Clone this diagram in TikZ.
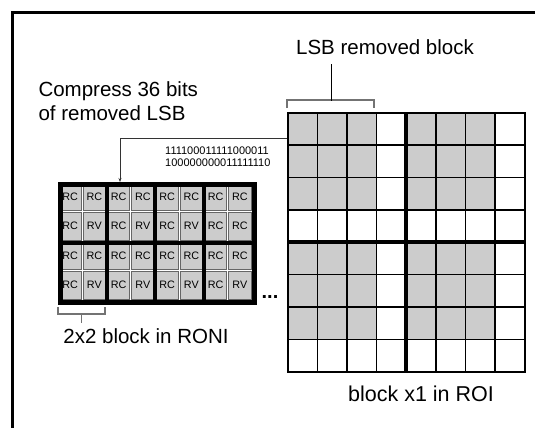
\documentclass[tikz,border=0pt]{standalone}
\usepackage{fontspec}
\setmainfont{Liberation Sans}
\usetikzlibrary{arrows.meta}
\definecolor{cellgray}{gray}{0.80}
\definecolor{brkgray}{gray}{0.45}
\begin{document}
\begin{tikzpicture}[x=1pt,y=-1pt,
  lbl/.style={font=\fontsize{20.5}{23.5}\selectfont, inner sep=0pt},
  bits/.style={font=\fontsize{11}{11.5}\selectfont, inner sep=0pt, align=center},
  gcell/.style={draw=black, line width=1.6pt, minimum width=29.625pt, minimum height=32.375pt, inner sep=0pt, anchor=north west},
  rcell/.style={draw=black!60, line width=0.9pt, fill=cellgray, minimum width=22.6pt, minimum height=27.8pt, inner sep=0pt, font=\fontsize{10.8}{10.8}\selectfont},
  brk/.style={draw=brkgray, line width=1.1pt},
  stem/.style={draw=black, line width=1.2pt},
  conn/.style={draw=black!80, line width=0.9pt},
]
\useasboundingbox (0,0) rectangle (535,428);
% frame
\draw[line width=3pt] (12,430) -- (12,13) -- (537,13);

% ROI grid
\foreach \i in {0,...,7}{
  \foreach \j in {0,...,7}{
    \pgfmathtruncatemacro{\a}{mod(\i,4)}
    \pgfmathtruncatemacro{\b}{mod(\j,4)}
    \pgfmathsetmacro{\isg}{(\a<3)&&(\b<3)}
    \ifdim\isg pt>0.5pt
      \node[gcell, fill=cellgray] (g-\i-\j) at ({287+29.625*\i},{112+32.375*\j}) {};
    \else
      \node[gcell, fill=white] (g-\i-\j) at ({287+29.625*\i},{112+32.375*\j}) {};
    \fi
  }
}
\node[draw=black, line width=1.8pt, minimum width=237pt, minimum height=259pt, anchor=north west, inner sep=0pt] (roi) at (287,112) {};
\draw[line width=4pt] (roi.north) -- (roi.south);
\draw[line width=4pt] (roi.west) -- (roi.east);

% RONI block
\foreach \lab [count=\i from 0] in {RC,RC,RC,RC,RC,RC,RC,RC}{
  \node[rcell] (r-\i-0) at ({58+24.25*\i+12.125},{182+14.75}) {\lab};}
\foreach \lab [count=\i from 0] in {RC,RV,RC,RV,RC,RV,RC,RC}{
  \node[rcell] (r-\i-1) at ({58+24.25*\i+12.125},{182+29.5+14.75}) {\lab};}
\foreach \lab [count=\i from 0] in {RC,RC,RC,RC,RC,RC,RC,RC}{
  \node[rcell] (r-\i-2) at ({58+24.25*\i+12.125},{182+59+14.75}) {\lab};}
\foreach \lab [count=\i from 0] in {RC,RV,RC,RV,RC,RV,RC,RV}{
  \node[rcell] (r-\i-3) at ({58+24.25*\i+12.125},{182+88.5+14.75}) {\lab};}
\node[draw=black, line width=4.5pt, minimum width=194pt, minimum height=118pt, anchor=north west, inner sep=0pt] (roni) at (58,182) {};
\foreach \x in {106.5,155,203.5}{
  \draw[line width=4pt] (\x,182) -- (\x,300);}
\draw[line width=4pt] (roni.west) -- (roni.east);
\node[font=\bfseries\fontsize{20}{20}\selectfont, inner sep=0pt, anchor=base] (dots) at (270,298.5) {...};

% labels
\node[lbl, anchor=base] (lsb) at (385,55) {LSB removed block};
\node[lbl, anchor=base west] (comp1) at (38.3,96.7) {Compress 36 bits};
\node[lbl, anchor=base west] (comp2) at (38.3,120) {of removed LSB};
\node[bits, anchor=base west] (bits1) at (165,154.5) {111100011111000011};
\node[bits, anchor=base west] (bits2) at (165,166) {100000000011111110};
\node[lbl, anchor=base] (ronil) at (146,343) {2x2 block in RONI};
\node[lbl, anchor=base, font=\fontsize{21.5}{24}\selectfont] (roil) at (421,401.7) {block x1 in ROI};

% top bracket
\draw[brk] (287,108) -- (287,100) -- (374,100) -- (374,108);
\draw[stem] (331.5,100.5) -- (331.5,64);

% bottom bracket
\draw[brk] (58,307) -- (58,314) -- (105,314) -- (105,307);
\draw[stem, draw=brkgray] (81.7,314) -- (81.7,323);

% arrow
\coordinate (astart) at (287,138.3);
\coordinate (acorner) at (120,138.3);
\draw[conn, -{Stealth[length=4pt,width=3pt]}] (astart) -- (acorner) -- (acorner |- roni.north);
\end{tikzpicture}
\end{document}
